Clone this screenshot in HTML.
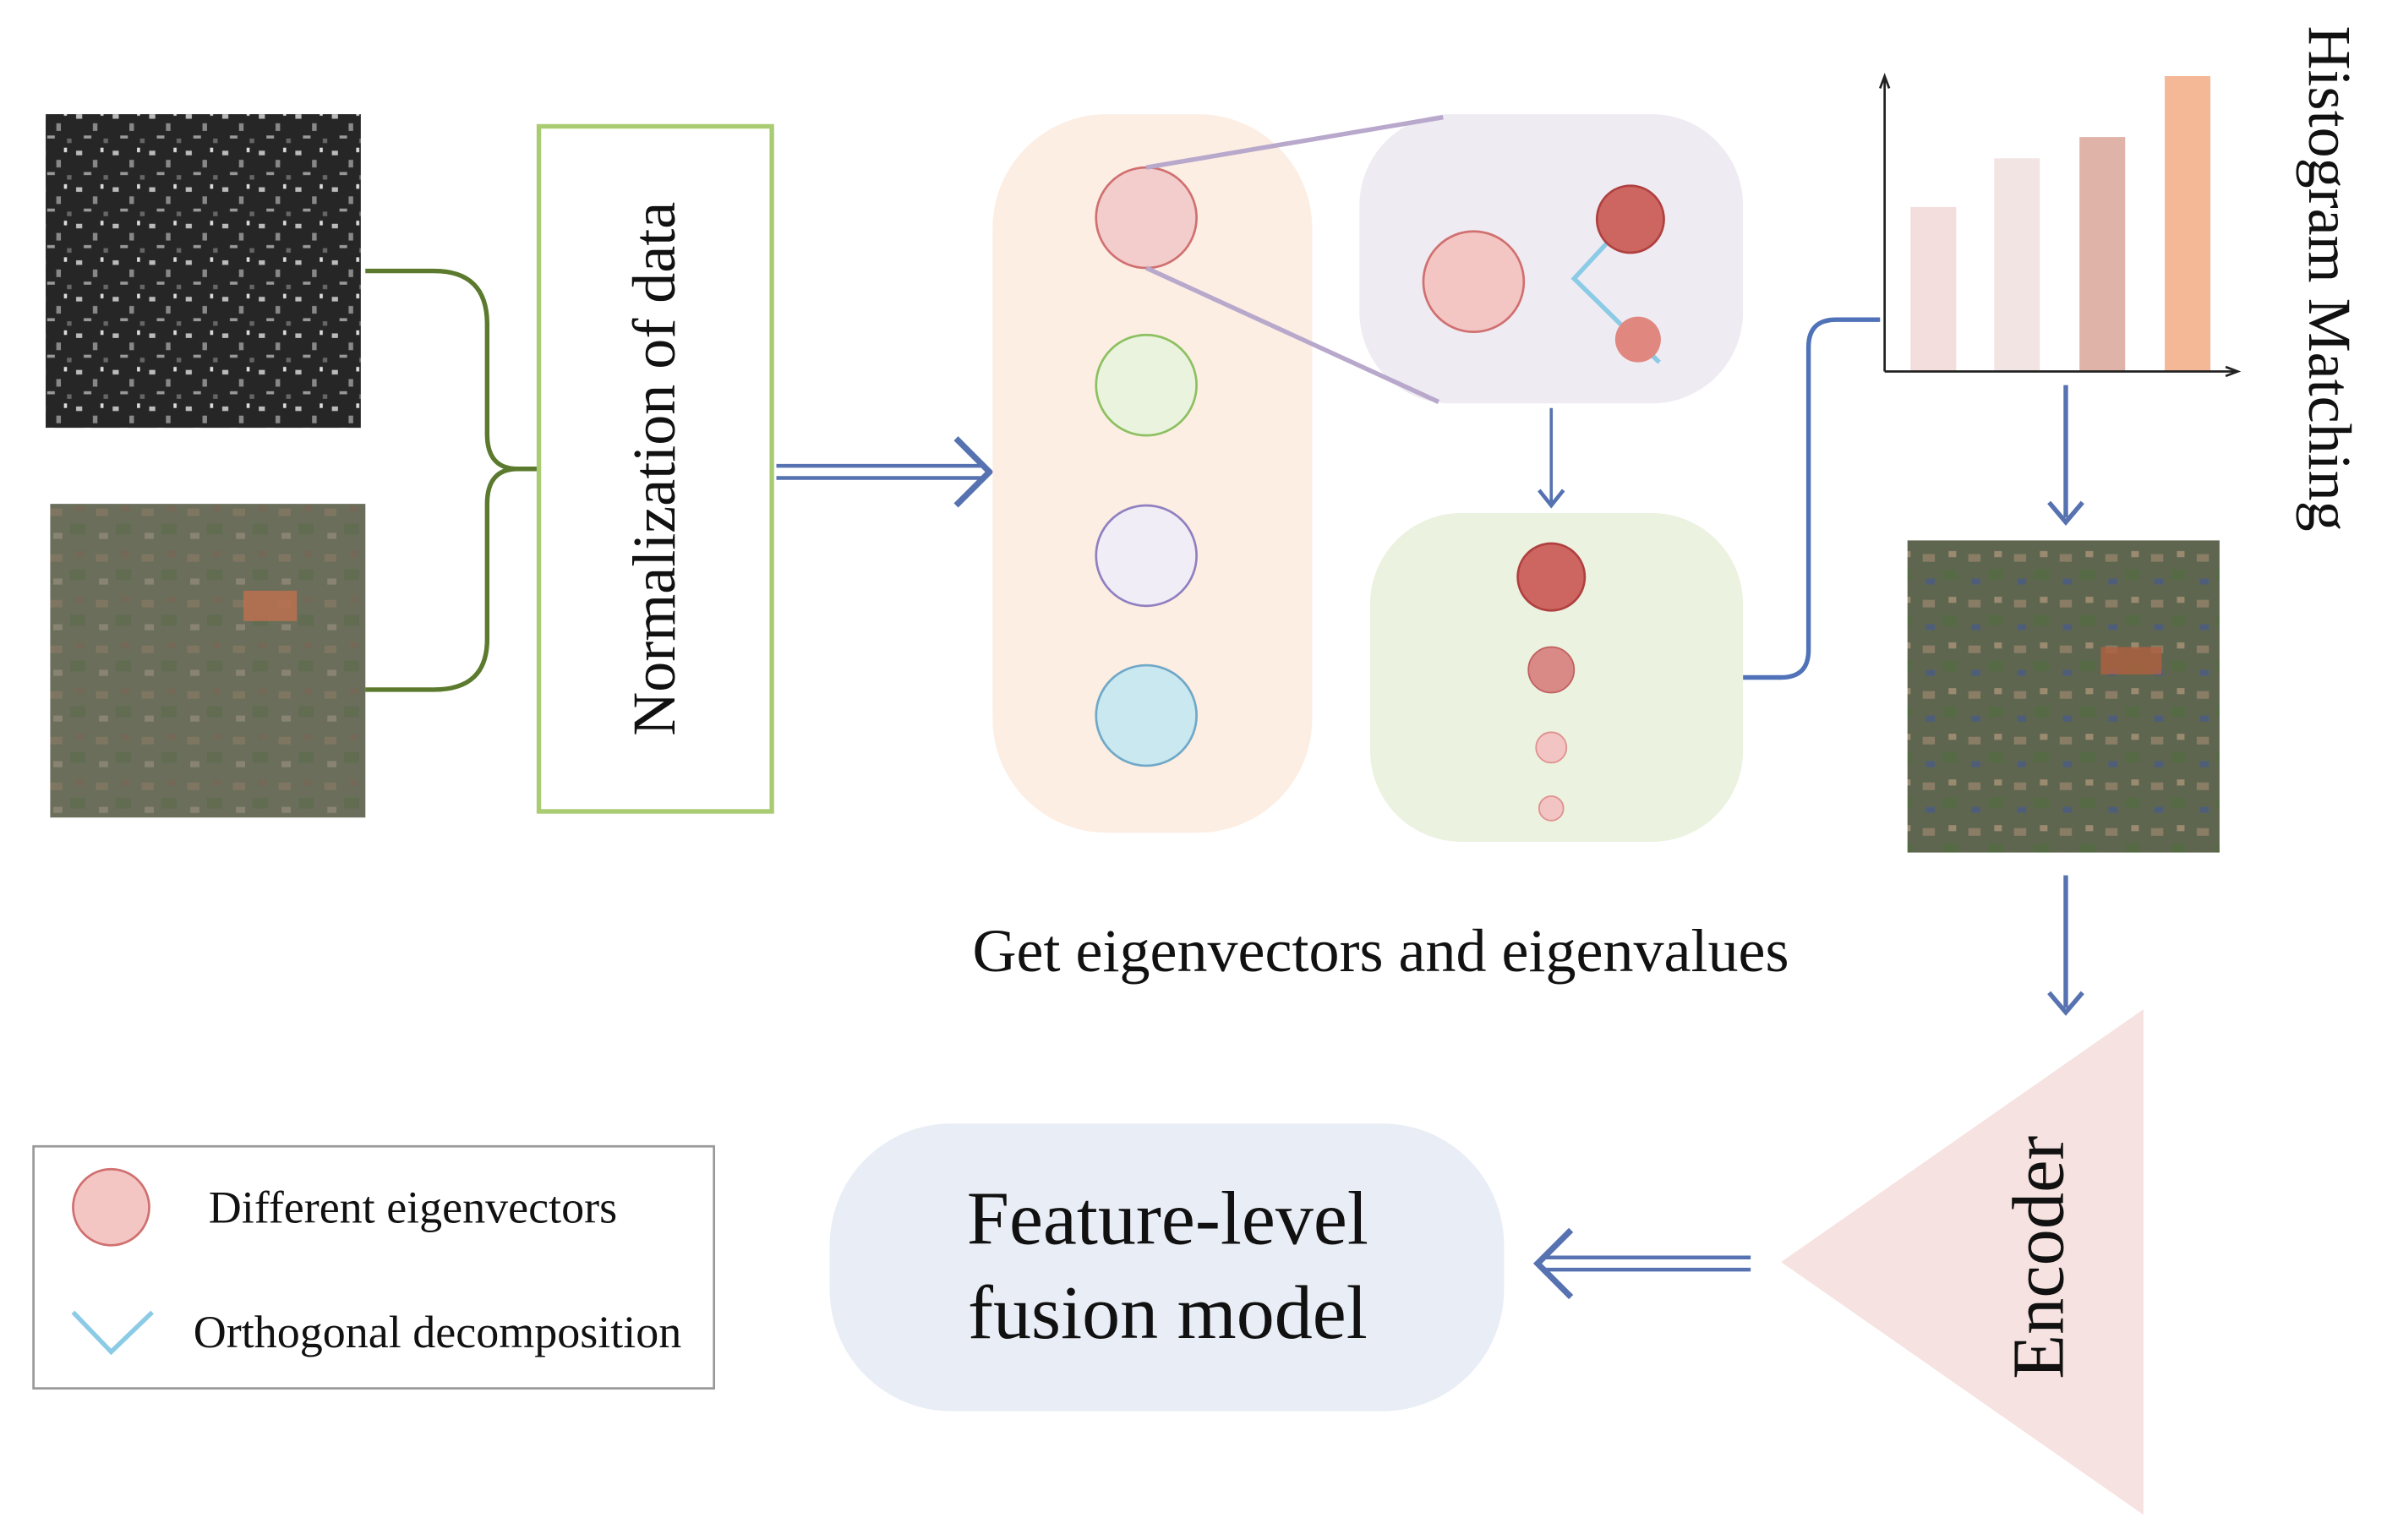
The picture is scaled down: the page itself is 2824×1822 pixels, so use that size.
<!DOCTYPE html>
<html><head><meta charset="utf-8"><style>html,body{margin:0;padding:0;background:#fff;width:2824px;height:1822px;overflow:hidden}svg{display:block}text{font-family:"Liberation Serif",serif;fill:#111}</style></head>
<body>
<svg width="2824" height="1822" viewBox="0 0 1568 1011.6" preserveAspectRatio="none" xmlns="http://www.w3.org/2000/svg">
<defs>
<pattern id="sar" width="24" height="24" patternUnits="userSpaceOnUse">
<rect width="24" height="24" fill="#262626"/>
<rect x="2" y="3" width="4" height="3" fill="#bbb"/><rect x="13" y="9" width="3" height="5" fill="#888"/>
<rect x="7" y="17" width="5" height="2" fill="#999"/><rect x="18" y="1" width="2" height="3" fill="#ddd"/>
<rect x="20" y="19" width="3" height="3" fill="#666"/>
</pattern>
<pattern id="opt" width="30" height="30" patternUnits="userSpaceOnUse">
<rect width="30" height="30" fill="#6a6d5c"/>
<rect x="3" y="4" width="8" height="5" fill="#8a7a66"/><rect x="16" y="14" width="10" height="7" fill="#5c6a4e"/>
<rect x="5" y="20" width="6" height="4" fill="#9a8f80"/><rect x="20" y="2" width="5" height="4" fill="#7a6555"/>
</pattern>
<pattern id="out" width="30" height="30" patternUnits="userSpaceOnUse">
<rect width="30" height="30" fill="#5f6650"/>
<rect x="3" y="4" width="8" height="5" fill="#8a7d66"/><rect x="16" y="14" width="10" height="7" fill="#556a45"/>
<rect x="5" y="20" width="6" height="4" fill="#4f5e78"/><rect x="20" y="2" width="5" height="4" fill="#9a8a70"/>
</pattern>
</defs>
<rect x="30" y="75" width="207" height="206" fill="url(#sar)"/>
<rect x="33" y="331" width="207" height="206" fill="url(#opt)"/>
<rect x="33" y="331" width="207" height="206" fill="#6a7058" opacity="0.35"/>
<rect x="160" y="388" width="35" height="20" fill="#c07050" opacity="0.8"/>
<rect x="1253" y="355" width="205" height="205" fill="url(#out)"/>
<rect x="1380" y="425" width="40" height="18" fill="#b06040" opacity="0.8"/>
<path d="M240 178 H285 Q320 178 320 213 V285 Q320 308 340 308 H355 M340 308 Q320 308 320 331 V420 Q320 453 285 453 H240" fill="none" stroke="#5b7a2e" stroke-width="3"/>
<rect x="354" y="83" width="153" height="450" fill="#fff" stroke="#a9cc72" stroke-width="3"/>
<text transform="translate(443,308) rotate(-90)" text-anchor="middle" font-size="40">Normalization of data</text>
<g stroke="#5672b0" fill="none">
<line x1="510" y1="306" x2="646" y2="306" stroke-width="2.5"/>
<line x1="510" y1="314" x2="646" y2="314" stroke-width="2.5"/>
<polyline points="628,288 650,310 628,332" stroke-width="4"/>
</g>
<rect x="652" y="75" width="210" height="472" rx="75" fill="#fdeee3"/>
<circle cx="753" cy="143" r="33" fill="#f3cccc" stroke="#d07070" stroke-width="1.5"/>
<circle cx="753" cy="253" r="33" fill="#e9f3dd" stroke="#8cc060" stroke-width="1.5"/>
<circle cx="753" cy="365" r="33" fill="#f1edf6" stroke="#9080c0" stroke-width="1.5"/>
<circle cx="753" cy="470" r="33" fill="#c9e8ef" stroke="#70a8c8" stroke-width="1.5"/>
<rect x="893" y="75" width="252" height="190" rx="60" fill="#efebf2"/>
<line x1="753" y1="110" x2="948" y2="77" stroke="#b8a8cc" stroke-width="3"/>
<line x1="753" y1="176" x2="945" y2="264" stroke="#b8a8cc" stroke-width="3"/>
<circle cx="968" cy="185" r="33" fill="#f3c6c4" stroke="#d07070" stroke-width="1.5"/>
<polyline points="1058,157 1034,183 1090,238" fill="none" stroke="#8ccbe6" stroke-width="3"/>
<circle cx="1071" cy="144" r="22" fill="#cd6660" stroke="#b04040" stroke-width="1.5"/>
<circle cx="1076" cy="223" r="15" fill="#e08880"/>
<line x1="1019" y1="268" x2="1019" y2="330" stroke="#5672b0" stroke-width="2"/>
<polyline points="1011,322 1019,332 1027,322" fill="none" stroke="#5672b0" stroke-width="2.5"/>
<rect x="900" y="337" width="245" height="216" rx="60" fill="#ebf2e0"/>
<circle cx="1019" cy="379" r="22" fill="#cd6660" stroke="#b04040" stroke-width="1.5"/>
<circle cx="1019" cy="440" r="15" fill="#d98a86" stroke="#c06060" stroke-width="1"/>
<circle cx="1019" cy="491" r="10" fill="#f3c4c4" stroke="#e09090" stroke-width="1"/>
<circle cx="1019" cy="531" r="8" fill="#f3c4c4" stroke="#e09090" stroke-width="1"/>
<path d="M1145 445 H1170 Q1188 445 1188 427 V228 Q1188 210 1206 210 H1235" fill="none" stroke="#4f72b8" stroke-width="3"/>
<rect x="1255" y="136" width="30" height="108" fill="#f3dedd"/>
<rect x="1310" y="104" width="30" height="140" fill="#f3e4e4"/>
<rect x="1366" y="90" width="30" height="154" fill="#e0b3a8"/>
<rect x="1422" y="50" width="30" height="194" fill="#f4b896"/>
<g stroke="#222" stroke-width="1.5" fill="none">
<line x1="1238" y1="52" x2="1238" y2="244"/><line x1="1238" y1="244" x2="1468" y2="244"/>
<polyline points="1235,58 1238,50 1241,58"/><polyline points="1462,241 1470,244 1462,247"/>
</g>
<text transform="translate(1517,183) rotate(90)" text-anchor="middle" font-size="40">Histogram Matching</text>
<g stroke="#5672b0" fill="none">
<line x1="1357" y1="253" x2="1357" y2="340" stroke-width="3"/>
<polyline points="1346,330 1357,343 1368,330" stroke-width="3"/>
<line x1="1357" y1="575" x2="1357" y2="662" stroke-width="3"/>
<polyline points="1346,652 1357,665 1368,652" stroke-width="3"/>
</g>
<polygon points="1408,663 1408,995 1170,829" fill="#f6e2e0"/>
<text transform="translate(1355,826) rotate(-90)" text-anchor="middle" font-size="48">Encoder</text>
<g stroke="#5672b0" fill="none">
<line x1="1150" y1="826" x2="1014" y2="826" stroke-width="2.5"/>
<line x1="1150" y1="834" x2="1014" y2="834" stroke-width="2.5"/>
<polyline points="1032,808 1010,830 1032,852" stroke-width="4"/>
</g>
<rect x="545" y="738" width="443" height="189" rx="80" fill="#e9edf5"/>
<text x="767" y="817" text-anchor="middle" font-size="50">Feature-level</text>
<text x="767" y="879" text-anchor="middle" font-size="50">fusion model</text>
<text x="907" y="638" text-anchor="middle" font-size="40">Get eigenvectors and eigenvalues</text>
<rect x="22" y="753" width="447" height="159" fill="#fff" stroke="#999" stroke-width="1.5"/>
<circle cx="73" cy="793" r="25" fill="#f3c6c4" stroke="#d07070" stroke-width="1.5"/>
<text x="137" y="803" font-size="30">Different eigenvectors</text>
<polyline points="48,862 73,888 100,862" fill="none" stroke="#8ccbe6" stroke-width="3"/>
<text x="127" y="885" font-size="30">Orthogonal decomposition</text>
</svg>
</body></html>
